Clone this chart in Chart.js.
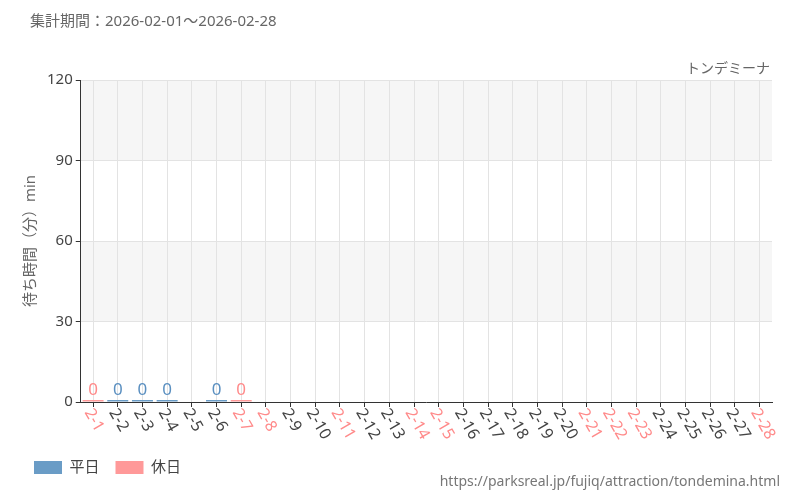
<!DOCTYPE html>
<html><head><meta charset="utf-8">
<script src="https://cdn.jsdelivr.net/npm/chart.js@4"></script>
<style>body{margin:0;background:#fff}#wrap{position:relative;width:800px;height:500px}</style>
</head><body><div id="wrap"><canvas id="c" width="800" height="500"></canvas></div>
<script>
const labels = [];
for (let d = 1; d <= 28; d++) labels.push('2-' + d);
const holidays = ['2-1','2-7','2-8','2-11','2-14','2-15','2-21','2-22','2-23','2-28'];
const weekday = [null,0,0,0,null,0,null,null,null,null,null,null,null,null,null,null,null,null,null,null,null,null,null,null,null,null,null,null];
const holiday = [0,null,null,null,null,null,0,null,null,null,null,null,null,null,null,null,null,null,null,null,null,null,null,null,null,null,null,null];
const yTicks = [0, 30, 60, 90, 120];
const FONT = "'Noto Sans', 'Noto Sans CJK JP', sans-serif";

const bands = {
  id: 'bands',
  beforeDraw(ch) {
    const { ctx, chartArea: a, scales: { y } } = ch;
    ctx.save();
    ctx.fillStyle = '#f6f6f6';
    [[30, 60], [90, 120]].forEach(([lo, hi]) => {
      const t = y.getPixelForValue(hi), b = y.getPixelForValue(lo);
      ctx.fillRect(a.left, t, a.right - a.left, b - t);
    });
    ctx.restore();
  }
};
const texts = {
  id: 'texts',
  afterDraw(ch) {
    const { ctx, chartArea: a, scales: { x } } = ch;
    ctx.save();
    ctx.font = '15px ' + FONT;
    ctx.fillStyle = '#666';
    ctx.textBaseline = 'middle';
    ctx.fillText('集計期間：2026-02-01～2026-02-28', 30, 22);
    ctx.font = '14px ' + FONT;
    ctx.textAlign = 'right';
    ctx.fillText('トンデミーナ', 770, 69);
    ctx.fillStyle = '#777';
    ctx.fillText('https://parksreal.jp/fujiq/attraction/tondemina.html', 780, 482);
    // rotated x labels (clockwise)
    ctx.font = '16px ' + FONT;
    ctx.textAlign = 'left';
    labels.forEach((l, i) => {
      const px = x.getPixelForValue(i);
      ctx.save();
      ctx.translate(px - 5, a.bottom + 8);
      ctx.rotate(Math.PI / 3);
      ctx.fillStyle = holidays.includes(l) ? '#ff8a8a' : '#444';
      ctx.fillText(l, 0, 0);
      ctx.restore();
    });
    // value labels
    ctx.textAlign = 'center';
    ctx.font = '17px ' + FONT;
    ch.data.datasets.forEach((ds, i) => {
      ch.getDatasetMeta(i).data.forEach((el, j) => {
        if (ds.data[j] === null) return;
        ctx.fillStyle = ds.borderColor;
        ctx.fillText(String(ds.data[j]), el.x, el.y - 10);
      });
    });
    ctx.restore();
  }
};

new Chart(document.getElementById('c'), {
  type: 'bar',
  data: {
    labels,
    datasets: [
      { label: '平日', data: weekday, backgroundColor: '#6a9cc6', borderColor: '#5a8fc0', minBarLength: 2, barPercentage: 0.85, categoryPercentage: 1, grouped: false },
      { label: '休日', data: holiday, backgroundColor: '#ff9999', borderColor: '#ff8a8a', minBarLength: 2, barPercentage: 0.85, categoryPercentage: 1, grouped: false }
    ]
  },
  options: {
    responsive: false,
    animation: false,
    layout: { padding: { top: 80, right: 28, left: 18, bottom: 15 } },
    plugins: {
      legend: {
        position: 'bottom', align: 'start',
        labels: { boxWidth: 28, boxHeight: 13, font: { size: 15, family: FONT }, color: '#444', padding: 16 }
      },
      tooltip: { enabled: false }
    },
    scales: {
      x: {
        afterFit: (s) => { s.height = 42; },
        grid: { color: '#e3e3e3', offset: false, drawTicks: true, tickColor: '#333', tickLength: 5 },
        border: { color: '#333' },
        ticks: { display: false, autoSkip: false }
      },
      y: {
        min: 0, max: 120,
        afterBuildTicks: (s) => { s.ticks = yTicks.map(v => ({ value: v })); },
        grid: { color: '#e3e3e3', tickColor: '#333', tickLength: 5 },
        border: { color: '#333' },
        ticks: { font: { size: 15, family: FONT }, color: '#444' },
        title: { display: true, text: '待ち時間（分）min', font: { size: 15, family: FONT }, color: '#666' }
      }
    }
  },
  plugins: [bands, texts]
});
</script></body></html>
